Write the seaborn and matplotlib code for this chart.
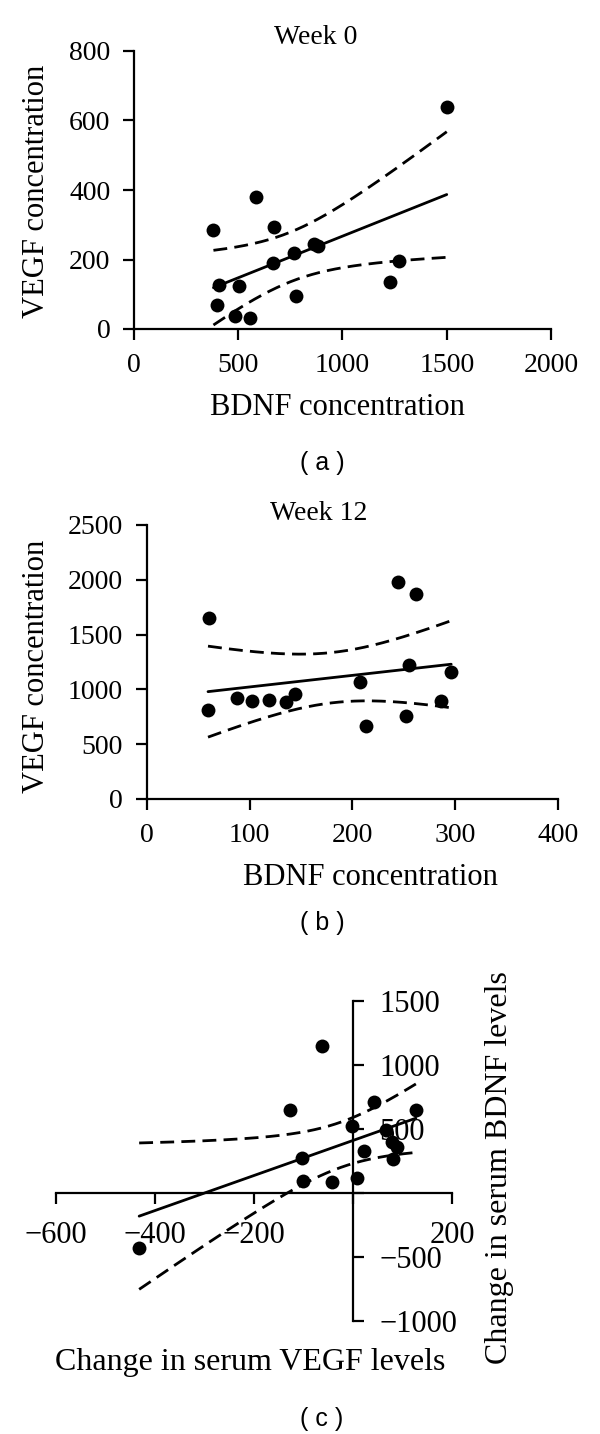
import numpy as np
import pandas as pd
import matplotlib
matplotlib.use("Agg")
import matplotlib.pyplot as plt
import seaborn as sns

# ---------------- data ----------------
# (a) Week 0
a_bdnf = [381, 408, 396, 484, 502, 554, 583, 670, 668, 767, 775, 865, 881, 1229, 1270, 1500]
a_vegf = [286, 128, 69, 36, 123, 31, 381, 293, 189, 218, 94, 244, 238, 135, 196, 640]
# (b) Week 12
b_bdnf = [59.6, 61, 88, 102, 119, 135, 144, 207, 213, 244, 252, 255, 262, 286, 296]
b_vegf = [808, 1652, 920, 893, 899, 881, 954, 1066, 662, 1978, 759, 1224, 1874, 896, 1163]
# (c) change
c_vegf = [-62.6, -127, 43, 127, -2, 66, 78, 89, 22, 80, -103, -101, -43, 9, -432]
c_bdnf = [1152, 645, 714, 648, 525, 493, 399, 359, 328, 265, 270, 94, 87, 118, -428]

a_xticks = [0, 500, 1000, 1500, 2000]
a_yticks = [0, 200, 400, 600, 800]
b_xticks = [0, 100, 200, 300, 400]
b_yticks = [0, 500, 1000, 1500, 2000, 2500]
c_xticks = [-600, -400, -200, 0, 200]
c_yticks = [-1000, -500, 0, 500, 1000, 1500]

T_A = 2.145   # t(0.975, 14)
T_BC = 2.160  # t(0.975, 13)

sns.set_style("ticks")
plt.rcParams["font.family"] = ["Liberation Serif", "DejaVu Serif"]
plt.rcParams["axes.linewidth"] = 1.6
plt.rcParams["xtick.major.width"] = 1.6
plt.rcParams["ytick.major.width"] = 1.6
plt.rcParams["xtick.major.size"] = 8
plt.rcParams["ytick.major.size"] = 8
plt.rcParams["xtick.direction"] = "out"
plt.rcParams["ytick.direction"] = "out"
plt.rcParams["xtick.color"] = "black"
plt.rcParams["ytick.color"] = "black"
plt.rcParams["xtick.labelcolor"] = "black"
plt.rcParams["ytick.labelcolor"] = "black"
plt.rcParams["axes.edgecolor"] = "black"
plt.rcParams["axes.labelcolor"] = "black"
plt.rcParams["text.color"] = "black"

W, H = 600, 1434
fig = plt.figure(figsize=(W / 100, H / 100), dpi=100)


def add_axes_px(left, right, top, bottom):
    return fig.add_axes([left / W, 1 - bottom / H, (right - left) / W, (bottom - top) / H])


def band(x, y, t):
    x = np.asarray(x, float)
    y = np.asarray(y, float)
    n = len(x)
    b, a = np.polyfit(x, y, 1)
    xs = np.linspace(x.min(), x.max(), 200)
    yhat = a + b * xs
    resid = y - (a + b * x)
    s = np.sqrt(np.sum(resid ** 2) / (n - 2))
    se = s * np.sqrt(1.0 / n + (xs - x.mean()) ** 2 / np.sum((x - x.mean()) ** 2))
    return xs, yhat - t * se, yhat + t * se


def draw(ax, x, y, t):
    df = pd.DataFrame({"x": x, "y": y})
    sns.regplot(data=df, x="x", y="y", ax=ax, ci=None, color="black",
                scatter_kws=dict(s=100, color="black", alpha=1, linewidths=0, zorder=3),
                line_kws=dict(color="black", lw=2.0))
    xs, lo, hi = band(x, y, t)
    for yy in (lo, hi):
        ax.plot(xs, yy, color="black", lw=2.0, linestyle=(0, (5, 2.6)))


cap_font = dict(family=["Liberation Sans", "DejaVu Sans"], fontsize=18, ha="center", va="center")

# ---------------- panel a ----------------
ax = add_axes_px(134, 551, 51, 329)
draw(ax, a_bdnf, a_vegf, T_A)
ax.set_xlim(0, 2000)
ax.set_ylim(0, 800)
ax.set_xticks(a_xticks)
ax.set_yticks(a_yticks)
ax.tick_params(labelsize=20, pad=9)
sns.despine(ax=ax)
ax.set_xlabel("BDNF concentration", fontsize=22, va="center")
ax.set_ylabel("VEGF concentration", fontsize=22, va="center")
ax.xaxis.set_label_coords(0.489, -0.284)
ax.yaxis.set_label_coords(-0.235, 0.496)
fig.text(316 / W, 1 - 37 / H, "Week 0", fontsize=20, ha="center", va="center")
fig.text(322 / W, 1 - 463 / H, "( a )", **cap_font)

# ---------------- panel b ----------------
ax = add_axes_px(146.7, 558.2, 525, 799)
draw(ax, b_bdnf, b_vegf, T_BC)
ax.set_xlim(0, 400)
ax.set_ylim(0, 2500)
ax.set_xticks(b_xticks)
ax.set_yticks(b_yticks)
ax.tick_params(labelsize=20, pad=9)
sns.despine(ax=ax)
ax.set_xlabel("BDNF concentration", fontsize=22, va="center")
ax.set_ylabel("VEGF concentration", fontsize=22, va="center")
ax.xaxis.set_label_coords(0.543, -0.288)
ax.yaxis.set_label_coords(-0.269, 0.485)
fig.text(319 / W, 1 - 513 / H, "Week 12", fontsize=20, ha="center", va="center")
fig.text(322 / W, 1 - 923 / H, "( b )", **cap_font)

# ---------------- panel c ----------------
ax = add_axes_px(56, 452, 1001, 1321)
draw(ax, c_vegf, c_bdnf, T_BC)
ax.set_xlim(-600, 200)
ax.set_ylim(-1000, 1500)
ax.spines["top"].set_visible(False)
ax.spines["left"].set_visible(False)
ax.spines["right"].set_visible(True)
ax.spines["right"].set_position(("data", 0))
ax.spines["bottom"].set_position(("data", 0))
ax.yaxis.tick_right()
ax.yaxis.set_label_position("right")
ax.set_xticks(c_xticks)
ax.set_xticklabels(["" if v == 0 else f"{v}".replace("-", "\u2212") for v in c_xticks])
ax.set_yticks(c_yticks)
ax.set_yticklabels(["" if v == 0 else f"{v}".replace("-", "\u2212") for v in c_yticks])
ax.tick_params(axis="x", labelsize=22, pad=12)
ax.tick_params(axis="y", labelsize=22, pad=11)
ax.set_xlabel("Change in serum VEGF levels", fontsize=23, va="center")
ax.set_ylabel("Change in serum BDNF levels", fontsize=23, va="center", rotation=90)
ax.xaxis.set_label_coords(0.49, -0.131)
ax.yaxis.set_label_coords(1.121, 0.481)
fig.text(322 / W, 1 - 1419 / H, "( c )", **cap_font)

fig.savefig("out.png", dpi=100)
